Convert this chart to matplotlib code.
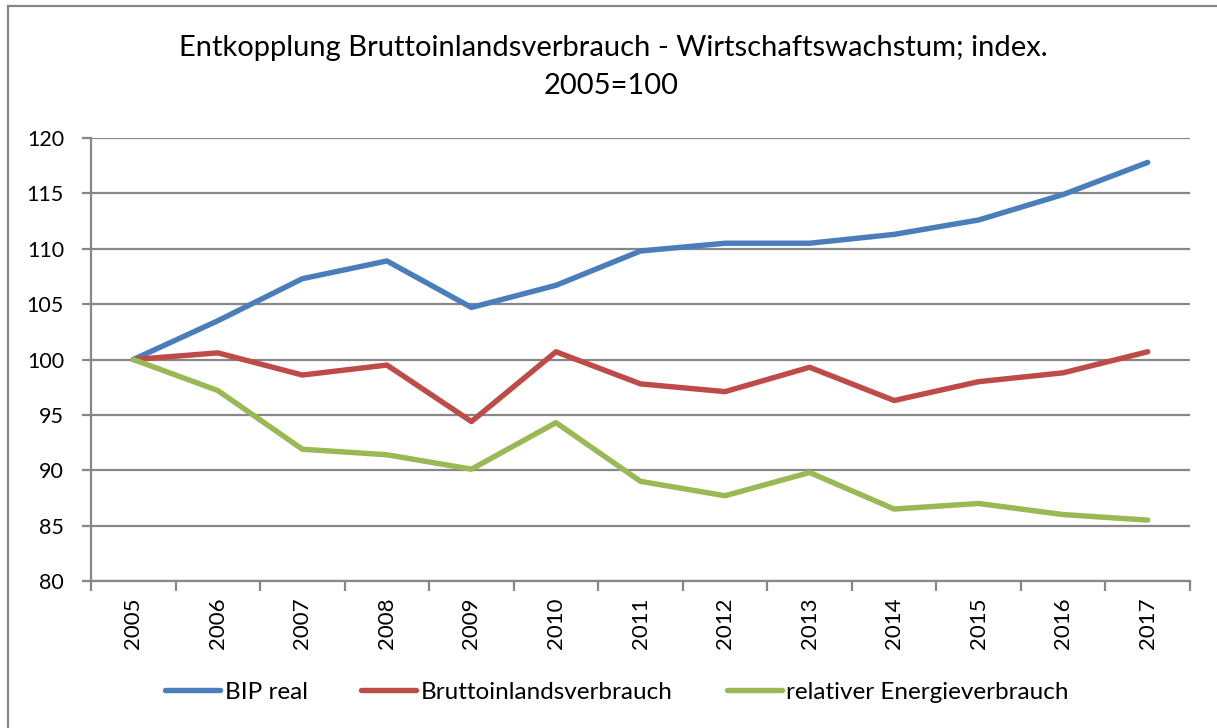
import numpy as np
import matplotlib
matplotlib.use('Agg')
import matplotlib.pyplot as plt
from matplotlib.patches import Rectangle

plt.rcParams['font.family'] = ['Lato', 'DejaVu Sans']

# Data (index 2005 = 100)
years = ['2005', '2006', '2007', '2008', '2009', '2010', '2011',
         '2012', '2013', '2014', '2015', '2016', '2017']
bip_real = [100.0, 103.5, 107.3, 108.9, 104.7, 106.7, 109.8,
            110.5, 110.5, 111.3, 112.6, 114.9, 117.8]
bruttoinlandsverbrauch = [100.0, 100.6, 98.6, 99.5, 94.4, 100.7, 97.8,
                          97.1, 99.3, 96.3, 98.0, 98.8, 100.7]
relativer_energieverbrauch = [100.0, 97.2, 91.9, 91.4, 90.1, 94.3, 89.0,
                              87.7, 89.8, 86.5, 87.0, 86.0, 85.5]

GRAY = '#878787'

fig = plt.figure(figsize=(12.17, 7.28), dpi=100)
ax = fig.add_axes([0.0748, 0.2019, 0.903, 0.6085])

# outer chart border (Excel chart area)
fig.patches.append(Rectangle((8 / 1217, -0.1), 2, 1 - 6 / 728 + 0.1,
                             transform=fig.transFigure, fill=False,
                             edgecolor=GRAY, linewidth=1.6))

x = np.arange(len(years))
ax.plot(x, bip_real, color='#4A7EBB', linewidth=3.9, label='BIP real',
        solid_capstyle='round', solid_joinstyle='round')
ax.plot(x, bruttoinlandsverbrauch, color='#BE4B48', linewidth=3.9,
        label='Bruttoinlandsverbrauch', solid_capstyle='round', solid_joinstyle='round')
ax.plot(x, relativer_energieverbrauch, color='#98B954', linewidth=3.9,
        label='relativer Energieverbrauch', solid_capstyle='round', solid_joinstyle='round')

ax.set_xlim(-0.5, len(years) - 0.5)
ax.set_ylim(80, 120)
ax.set_yticks(np.arange(80, 121, 5))
ax.yaxis.grid(True, color=GRAY, linewidth=1.6)
ax.set_axisbelow(True)

ax.set_xticks(x)
ax.set_xticklabels(years, rotation=90, fontsize=16)
ax.set_xticks(np.arange(-0.5, len(years), 1), minor=True)
ax.tick_params(axis='x', which='major', length=0, pad=12)
ax.tick_params(axis='x', which='minor', length=7, width=1.6, color=GRAY)
ax.tick_params(axis='y', length=6.5, width=1.6, color=GRAY, labelsize=15.5, pad=13)

for side in ['top', 'right']:
    ax.spines[side].set_visible(False)
for side in ['left', 'bottom']:
    ax.spines[side].set_color(GRAY)
    ax.spines[side].set_linewidth(1.6)

fig.text(0.504, 1 - 48 / 728, 'Entkopplung Bruttoinlandsverbrauch - Wirtschaftswachstum; index.',
         ha='center', va='center', fontsize=21)
fig.text(0.502, 1 - 86 / 728, '2005=100', ha='center', va='center', fontsize=21)

fig.legend(loc='center', bbox_to_anchor=(0.507, 1 - 692 / 728), ncol=3, frameon=False,
           fontsize=17.5, handlelength=2.26, handletextpad=0.2, columnspacing=2.2)

plt.savefig('out.png', dpi=100)
